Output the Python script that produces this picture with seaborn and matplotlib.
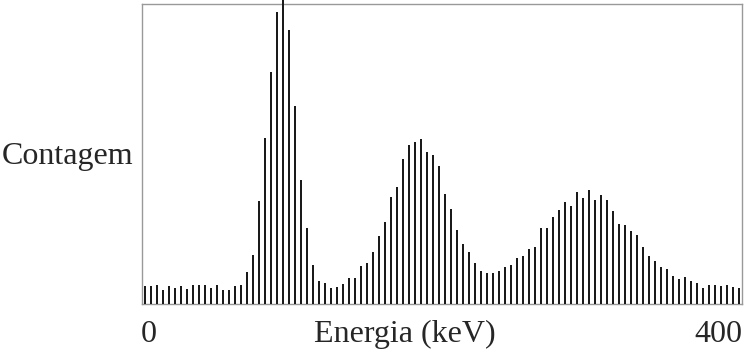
import numpy as np
import pandas as pd
import matplotlib
matplotlib.use("Agg")
import matplotlib.pyplot as plt
import seaborn as sns

sns.set_style("white")
plt.rcParams['font.family'] = ['Liberation Serif', 'DejaVu Serif']

# bin centres (keV) and counts
energia_kev = list(range(2, 400, 4))
contagem = [
    18, 18, 19, 14, 18, 16, 18, 15, 19, 19, 19, 16, 19, 14, 14, 18, 19,
    32, 49, 103, 166, 232, 292, 304, 274,
    198, 124, 76, 39, 23, 21, 16, 17, 20, 26, 26, 38, 41, 52, 68, 82, 107,
    117, 145, 159, 162, 165, 152, 149, 138,
    110, 95, 74, 60, 52, 41, 33, 31, 31, 33, 37, 39, 46, 48, 55, 57, 76, 76,
    87, 94, 102, 98, 112, 106, 114,
    104, 109, 104, 93, 80, 79, 73, 69, 57, 48, 43, 37, 35, 28, 25, 27, 23,
    21, 16, 19, 19, 18, 19, 17, 16,
]
x_min_label = "0"
x_max_label = "400"

df = pd.DataFrame({"energia": energia_kev, "contagem": contagem})

fig = plt.figure(figsize=(7.44, 3.5), dpi=100)
ax = fig.add_axes([142 / 744, 46 / 350, 600 / 744, 300 / 350])

sns.barplot(data=df, x="energia", y="contagem", color="#1a1a1a",
            width=0.38, saturation=1, ax=ax)
for p in ax.patches:
    p.set_clip_on(False)
    p.set_edgecolor("none")

ax.set_xlim(-0.5, len(energia_kev) - 0.5)
ax.set_ylim(0, 300)
ax.set_xticks([])
ax.set_yticks([])
ax.set_xlabel("")
ax.set_ylabel("")
for s in ax.spines.values():
    s.set_color("#999999")
    s.set_linewidth(1.0)
    s.set_zorder(0)

fs = 23
yb = -0.127
ax.text(-0.002, yb, x_min_label, transform=ax.transAxes, ha="left",
        va="baseline", fontsize=fs)
ax.text(1.0, yb, x_max_label, transform=ax.transAxes, ha="right",
        va="baseline", fontsize=fs)
ax.text(0.438, yb, "Energia (keV)", transform=ax.transAxes,
        ha="center", va="baseline", fontsize=fs)
ax.text(-0.014, 0.467, "Contagem", transform=ax.transAxes, ha="right",
        va="baseline", fontsize=fs)

fig.savefig("out.png", dpi=100)
